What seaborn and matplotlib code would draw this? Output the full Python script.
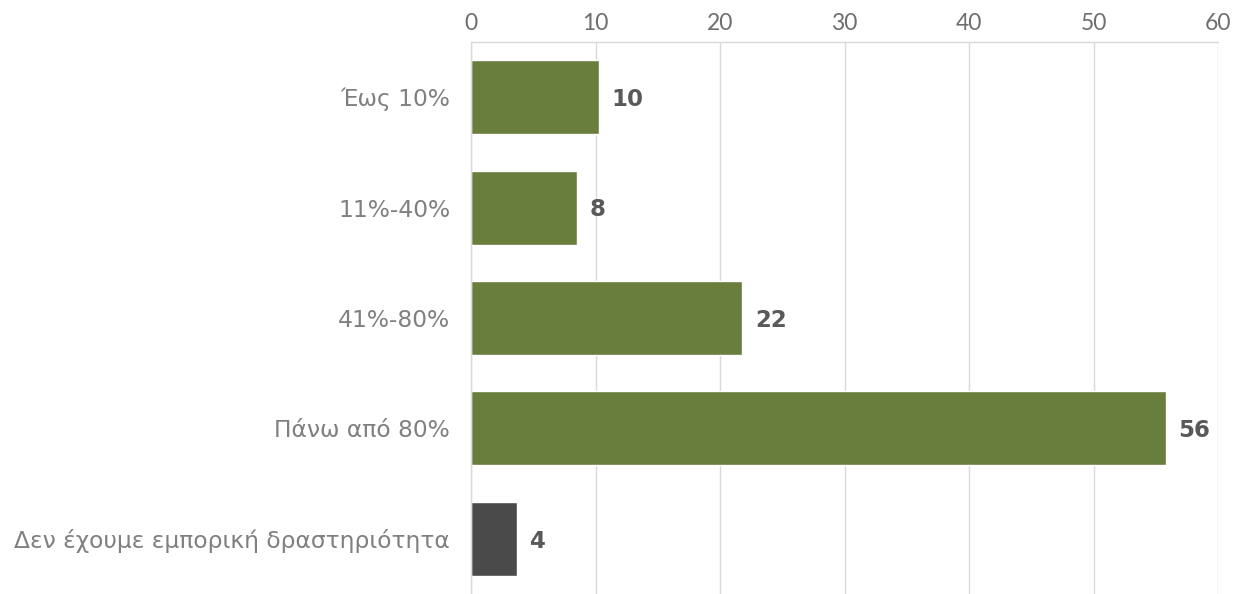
import matplotlib
matplotlib.use("Agg")
import matplotlib.pyplot as plt
import seaborn as sns
import pandas as pd
import numpy as np

# data
categories = ["Έως 10%", "11%-40%", "41%-80%", "Πάνω από 80%", "Δεν έχουμε εμπορική δραστηριότητα"]
values = [10.3, 8.5, 21.8, 55.8, 3.7]
bar_colors = ["#6d8832", "#6d8832", "#6d8832", "#6d8832", "#4a4a4b"]

df = pd.DataFrame({"category": categories, "value": values})

sns.set_style("white")
plt.rcParams["font.family"] = ["DejaVu Sans"]

fig = plt.figure(figsize=(12.41, 5.94), dpi=100)
ax = fig.add_axes([471 / 1241, 0, (1218 - 471) / 1241, (594 - 42) / 594])

sns.barplot(data=df, x="value", y="category", hue="category", palette=bar_colors,
            legend=False, width=0.67, ax=ax, orient="h")

ax.set_xlim(0, 60)
ax.set_ylim(4.5, -0.5)
ax.set_xticks(np.arange(0, 61, 10))
ax.xaxis.tick_top()
ax.tick_params(axis="x", length=0, pad=6, labelcolor="#6e6e6e")
for lab in ax.get_xticklabels():
    lab.set_fontfamily(["Lato", "DejaVu Sans"])
    lab.set_fontweight("normal")
    lab.set_fontsize(16.5)
ax.tick_params(axis="y", length=0, pad=15, labelsize=16.8, labelcolor="#808080")
ax.set_yticks(np.arange(-0.5, 5, 1), minor=True)
ax.tick_params(axis="y", which="minor", length=7, color="#d9d9d9", width=1)
ax.grid(axis="x", color="#d9d9d9", linewidth=1)
ax.set_axisbelow(True)
ax.set_xlabel("")
ax.set_ylabel("")

for s in ["right", "bottom"]:
    ax.spines[s].set_visible(False)
for s in ["top", "left"]:
    ax.spines[s].set_color("#d9d9d9")
    ax.spines[s].set_linewidth(1)

for i, v in enumerate(values):
    ax.text(v + 1.0, i + 0.02, f"{round(v):d}", va="center", ha="left",
            fontsize=16.5, fontweight="bold", color="#595959")

fig.savefig("out.png", dpi=100)
